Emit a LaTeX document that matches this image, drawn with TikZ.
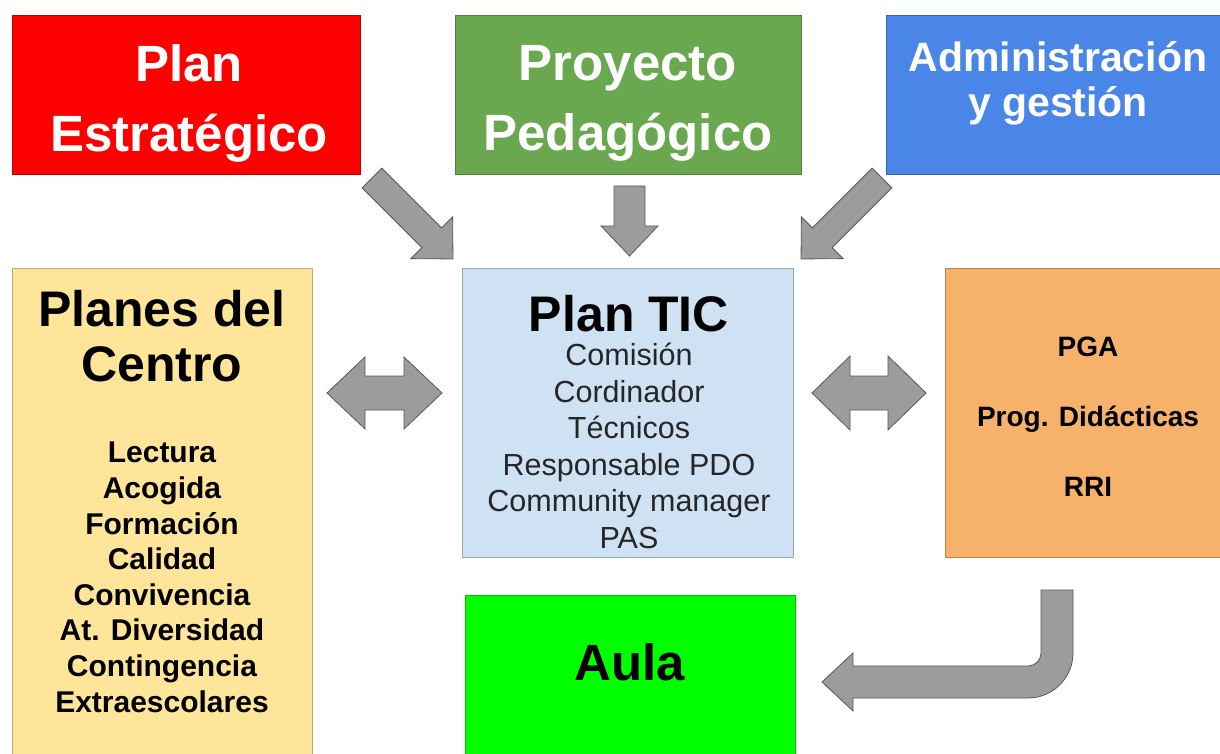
\documentclass[tikz,border=0pt]{standalone}
\usepackage{fontspec}
\setmainfont{Liberation Sans}
\usetikzlibrary{positioning}

\definecolor{estrred}{HTML}{FF0000}
\definecolor{pedgreen}{HTML}{6AA84F}
\definecolor{admblue}{HTML}{4A86E8}
\definecolor{planyellow}{HTML}{FFE599}
\definecolor{ticblue}{HTML}{CFE2F3}
\definecolor{pgaorange}{HTML}{F6B26B}
\definecolor{aulagreen}{HTML}{00FF00}
\definecolor{arrowgray}{HTML}{9C9C9C}
\definecolor{arrowline}{HTML}{595959}

\tikzset{
  box/.style={draw=#1!75!black, fill=#1, line width=0.8pt, anchor=north west, inner sep=0pt},
  txt/.style={align=center, inner sep=0pt, anchor=north},
  blockarrow/.style={draw=arrowline, fill=arrowgray, line width=0.8pt, line join=miter}
}

% x, y, angle, length, half shaft, half head, head length
\newcommand{\onearrow}[7]{%
  \draw[blockarrow, shift={(#1,#2)}, rotate=#3]
    (0,-#5) -- ({#4-#7},-#5) -- ({#4-#7},-#6) -- (#4,0) -- ({#4-#7},#6)
    -- ({#4-#7},#5) -- (0,#5) -- cycle;}
% x, y, length, half shaft, half head, head length
\newcommand{\twoarrow}[6]{%
  \draw[blockarrow, shift={(#1,#2)}]
    (0,0) -- (#6,-#5) -- (#6,-#4) -- ({#3-#6},-#4) -- ({#3-#6},-#5) -- (#3,0)
    -- ({#3-#6},#5) -- ({#3-#6},#4) -- (#6,#4) -- (#6,#5) -- cycle;}

\newcommand{\bigfont}{\fontsize{51}{70}\selectfont\bfseries}

\begin{document}
\begin{tikzpicture}[x=1pt,y=-1pt]
\useasboundingbox (0,0) rectangle (1220,754);

% top row
\node[box=estrred, minimum width=348pt, minimum height=159pt] (estrategico) at (12,15) {};
\node[box=pedgreen, minimum width=346pt, minimum height=159pt] (proyecto) at (455,15) {};
\node[box=admblue, minimum width=340pt, minimum height=159pt] (admin) at (886,15) {};
\node[txt, white, font=\bigfont] (estrategico-txt) at (189,44) {Plan\\Estratégico};
\node[txt, white, font=\bigfont] (proyecto-txt) at (628,45) {Proyecto\\Pedagógico};
\node[txt, white, font=\fontsize{41}{45}\selectfont\bfseries] (admin-txt) at (1058,41) {Administración\\y gestión};

% middle row
\node[box=planyellow, minimum width=300pt, minimum height=500pt] (planes) at (12,268) {};
\node[box=ticblue, minimum width=331pt, minimum height=289pt] (tic) at (462,268) {};
\node[box=pgaorange, minimum width=285pt, minimum height=289pt] (pga) at (945,268) {};
\node[txt, font=\fontsize{50}{55}\selectfont\bfseries] (planes-txt) at (162,290) {Planes del\\Centro};
\node[txt, font=\fontsize{30}{35.6}\selectfont\bfseries] (planes-list) at (162,442)
  {Lectura\\Acogida\\Formación\\Calidad\\Convivencia\\At. Diversidad\\Contingencia\\Extraescolares};
\node[txt, font=\fontsize{50}{55}\selectfont\bfseries] (tic-txt) at (629,295) {Plan TIC};
\node[txt, text=black!85, font=\fontsize{30.5}{36.5}\selectfont] (tic-list) at (629,343)
  {Comisión\\Cordinador\\Técnicos\\Responsable PDO\\Community manager\\PAS};
\node[txt, font=\fontsize{28}{70}\selectfont\bfseries] (pga-txt) at (1088,337) {PGA\\Prog. Didácticas\\RRI};

% bottom
\node[box=aulagreen, minimum width=330pt, minimum height=170pt] (aula) at (465,595) {};
\node[txt, font=\fontsize{51}{60}\selectfont\bfseries] (aula-txt) at (630,643) {Aula};

% arrows
\onearrow{372}{178}{-45}{114.5}{14}{29.5}{30}
\onearrow{629.5}{186}{-90}{70}{15.5}{28.5}{30}
\onearrow{882}{178}{-135}{114.5}{14}{29.5}{30}
\twoarrow{327}{393}{115}{17}{36}{38}
\twoarrow{812}{393}{114}{17}{37}{38}
\draw[blockarrow] (1041,590) -- (1073,590) -- (1073,653) arc[start angle=0, end angle=90, radius=45]
  -- (853,698) -- (853,711) -- (822,682) -- (853,653) -- (853,666) -- (1028,666)
  arc[start angle=90, end angle=0, radius=13] -- cycle;
\end{tikzpicture}
\end{document}
